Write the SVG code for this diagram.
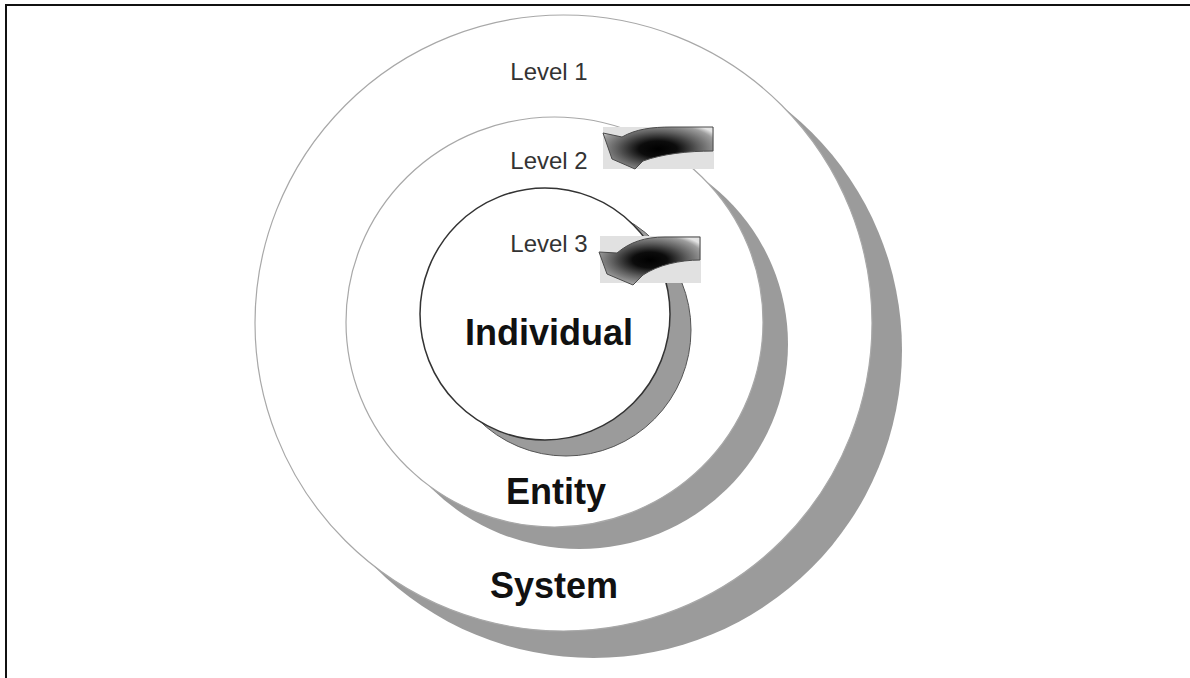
<svg xmlns="http://www.w3.org/2000/svg" width="1190" height="678" viewBox="0 0 1190 678">
  <style>
    .shadow { fill: #9b9b9b; stroke: none; }
    .ring { fill: #ffffff; stroke: #a8a8a8; stroke-width: 1.2; }
    .lvl { font-family: "Liberation Sans", Arial, sans-serif; font-size: 24px; fill: #333333; text-anchor: middle; }
    .big { font-family: "Liberation Sans", Arial, sans-serif; font-size: 36px; font-weight: bold; fill: #111111; text-anchor: middle; }
    .abox { fill: #e1e1e1; stroke: none; }
    .arrow { stroke: #4a4a4a; stroke-width: 1; stroke-linejoin: miter; }
  </style>
  <defs>
    <radialGradient id="ag2" gradientUnits="userSpaceOnUse" cx="658" cy="149" r="68" gradientTransform="translate(658 149) scale(1 0.42) translate(-658 -149)">
      <stop offset="0" stop-color="#000000"/>
      <stop offset="0.28" stop-color="#0c0c0c"/>
      <stop offset="0.6" stop-color="#5e5e5e"/>
      <stop offset="0.88" stop-color="#9e9e9e"/>
      <stop offset="1" stop-color="#e4e4e4"/>
    </radialGradient>
    <radialGradient id="ag3" gradientUnits="userSpaceOnUse" cx="650" cy="260" r="62" gradientTransform="translate(650 260) scale(1 0.45) translate(-650 -260)">
      <stop offset="0" stop-color="#000000"/>
      <stop offset="0.28" stop-color="#0c0c0c"/>
      <stop offset="0.6" stop-color="#5e5e5e"/>
      <stop offset="0.88" stop-color="#9e9e9e"/>
      <stop offset="1" stop-color="#e4e4e4"/>
    </radialGradient>
  </defs>

  <rect id="frame" x="6" y="5" width="1200" height="700" fill="#ffffff" stroke="#111111" stroke-width="2"/>

  <g id="system">
    <ellipse class="shadow" cx="593.5" cy="350" rx="308.5" ry="308"/>
    <ellipse class="ring" cx="563.5" cy="323" rx="308.5" ry="308"/>
  </g>

  <g id="entity">
    <ellipse class="shadow" cx="579.5" cy="344" rx="208.5" ry="205"/>
    <ellipse class="ring" cx="554.5" cy="322" rx="208.5" ry="205"/>
  </g>

  <g id="individual">
    <ellipse cx="566" cy="330" rx="125" ry="126" fill="#9b9b9b" stroke="#555555" stroke-width="1"/>
    <ellipse cx="545" cy="314" rx="125" ry="126" fill="#ffffff" stroke="#333333" stroke-width="1.5"/>
  </g>

  <g id="connectors">
    <g id="arrow-level2">
      <rect class="abox" x="603" y="127" width="111" height="42"/>
      <path class="arrow" fill="url(#ag2)" d="M713,127 V151 C688,151 662,154 643,161 L635,169 L612,159 L603,133 L622,137 C636,129 652,127 672,127 Z"/>
    </g>
    <g id="arrow-level3">
      <rect class="abox" x="600" y="236" width="101" height="47"/>
      <path class="arrow" fill="url(#ag3)" d="M700,237 V260 C680,260 658,265 643,275 L633,285 L607,274 L599,252 L617,253 C630,242 645,237 665,237 Z"/>
    </g>
  </g>

  <g id="labels">
    <text class="lvl" x="549" y="80">Level 1</text>
    <text class="lvl" x="549" y="169">Level 2</text>
    <text class="lvl" x="549" y="252">Level 3</text>
    <text class="big" x="549" y="345">Individual</text>
    <text class="big" x="556" y="504">Entity</text>
    <text class="big" x="554" y="598">System</text>
  </g>
</svg>
